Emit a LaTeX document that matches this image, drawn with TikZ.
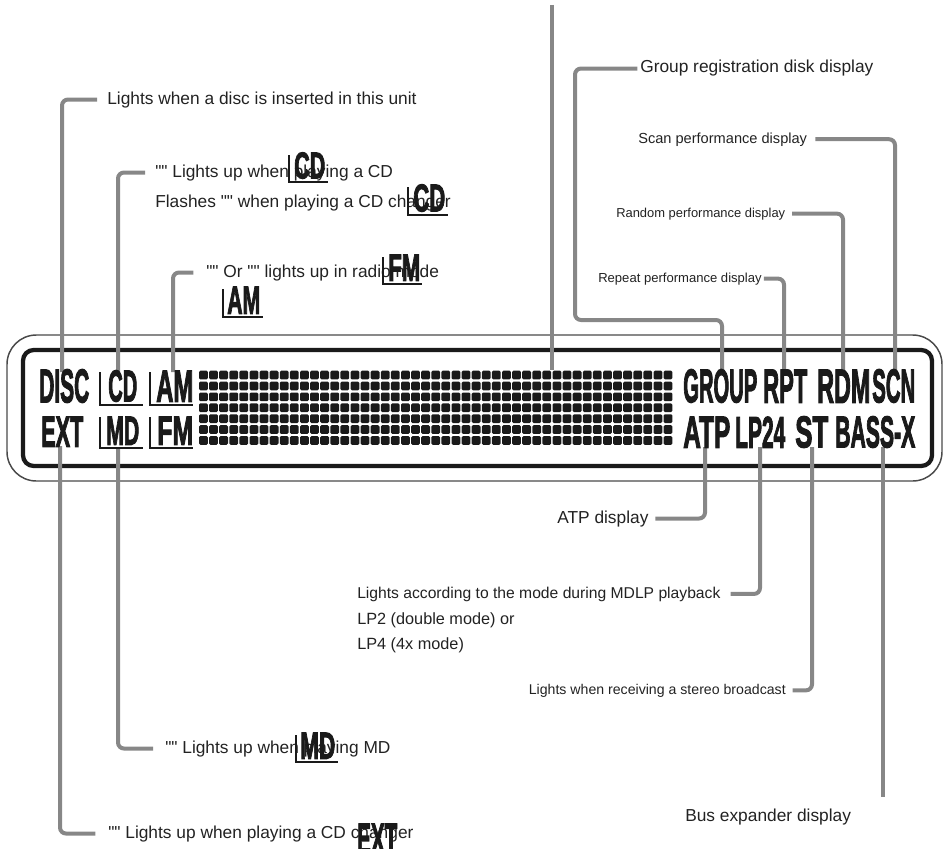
\documentclass[tikz,border=0pt]{standalone}
\usepackage{fontspec}
\usepackage{graphicx}
\setmainfont{Liberation Sans}[Ligatures=TeXOff]
\newfontfamily\lcdfont{Liberation Sans}[FakeBold=3]
\newlength\pxu
\setlength\pxu{0.75pt}
\newcommand\lcdtxt[3]{\resizebox{#1\pxu}{#2\pxu}{\lcdfont\bfseries #3}}
\definecolor{txt}{HTML}{222222}
\definecolor{leadgrey}{HTML}{878787}
\definecolor{dotc}{HTML}{1A1A1A}
\definecolor{framegrey}{HTML}{4A4A4A}
\tikzset{
  lead/.style={draw=leadgrey, line width=3pt, rounded corners=4.5pt},
  lbl/.style={inner sep=0pt, text=txt, font=\fontsize{13}{15}\selectfont},
  lcd/.style={inner sep=0pt, anchor=south west, text=dotc},
  brk/.style={draw=dotc, line width=2pt},
  sbrk/.style={draw=dotc, line width=1.7pt},
  dot/.style={fill=dotc, rounded corners=1pt},
}
\begin{document}
\begin{tikzpicture}[x=0.75pt, y=-0.75pt]
\useasboundingbox (0,0) rectangle (946,849);
\clip (0,0) rectangle (946,849);

% frames
\draw[draw=framegrey, line width=1.1pt, rounded corners=22pt] (7,335) rectangle (942,481);
\draw[draw=dotc, line width=3.2pt, rounded corners=8pt] (23,350) rectangle (932,466);

% named end points on the display
\coordinate (eDisc) at (62,372);
\coordinate (eCD) at (118,372);
\coordinate (eAM) at (173,372);
\coordinate (eMtx) at (552,370);
\coordinate (topfree) at (552,5);
\coordinate (eGroup) at (722,372);
\coordinate (eRpt) at (784,372);
\coordinate (eRdm) at (843,372);
\coordinate (eScan) at (895,372);
\coordinate (eExt) at (60,446);
\coordinate (eMD) at (118,447);
\coordinate (eATP) at (705,447);
\coordinate (eLP) at (760,447);
\coordinate (eST) at (812,447);
\coordinate (eBass) at (883,447);
\coordinate (bassfree) at (883,797);

% caption texts
\node[lbl, anchor=base west] (tDisc) at (107,104) {Lights when a disc is inserted in this unit};
\node[lbl, anchor=base west] (tCD) at (155,177) {"" Lights up when playing a CD};
\node[lbl, anchor=base west] (tCDb) at (155,207) {Flashes "" when playing a CD changer};
\node[lbl, anchor=base west] (tAM) at (206,277) {"" Or "" lights up in radio mode};
\node[lbl, anchor=base west] (tGroup) at (640,73) {Group registration disk display};
\node[lbl, anchor=base west, font=\fontsize{10.95}{13}\selectfont] (tScan) at (638,143) {Scan performance display};
\node[lbl, anchor=base west, font=\fontsize{9.7}{12}\selectfont] (tRdm) at (616,217) {Random performance display};
\node[lbl, anchor=base west, font=\fontsize{9.8}{12}\selectfont] (tRpt) at (598,282) {Repeat performance display};
\node[lbl, anchor=base west] (tATP) at (557,523) {ATP display};
\node[lbl, anchor=base west, font=\fontsize{11.75}{14}\selectfont] (tLP) at (357,598) {Lights according to the mode during MDLP playback};
\node[lbl, anchor=base west, font=\fontsize{12.2}{14}\selectfont] (tLP2) at (357,624) {LP2 (double mode) or};
\node[lbl, anchor=base west, font=\fontsize{12.2}{14}\selectfont] (tLP4) at (357,649.5) {LP4 (4x mode)};
\node[lbl, anchor=base east, font=\fontsize{10.6}{12}\selectfont] (tST) at (786,694) {Lights when receiving a stereo broadcast};
\node[lbl, anchor=base west] (tMD) at (165,753) {"" Lights up when playing MD};
\node[lbl, anchor=base west] (tExt) at (108,838) {"" Lights up when playing a CD changer};
\node[lbl, anchor=base west] (tBass) at (685,821) {Bus expander display};

% leader lines
\draw[lead] ([xshift=-7.5pt]tDisc.west) -| (eDisc);
\draw[lead] ([xshift=-7.5pt]tCD.west) -| (eCD);
\draw[lead] ([xshift=-9.5pt]tAM.west) -| (eAM);
\draw[lead] (topfree) -- (eMtx);
\draw[lead] ([xshift=-2pt]tGroup.west) -| (575,320) -| (eGroup);
\draw[lead] ([xshift=6pt]tScan.east) -| (eScan);
\draw[lead] ([xshift=5pt]tRdm.east) -| (eRdm);
\draw[lead] ([xshift=1.5pt]tRpt.east) -| (eRpt);
\draw[lead] (eExt) |- ([xshift=-9.5pt]tExt.west);
\draw[lead] (eMD) |- ([xshift=-9pt]tMD.west);
\draw[lead] (eATP) |- ([xshift=5pt]tATP.east);
\draw[lead] (eLP) |- ([xshift=7.5pt]tLP.east);
\draw[lead] (eST) |- ([xshift=5pt]tST.east);
\draw[lead] (eBass) -- (bassfree);

% dot matrix
\foreach \c in {0,...,46}{
  \foreach \r in {0,...,6}{
    \fill[dot] ({199+\c*10.1},{370.7+\r*10.9}) rectangle ++(8.8,8.7);
  }
}

% display legends
\node[lcd] (DISC) at (39,403) {\lcdtxt{50}{33}{DISC}};
\node[lcd] (EXT) at (41,447) {\lcdtxt{42}{30}{EXT}};
\draw[brk] (100,372) |- (143,405);
\node[lcd] (CD) at (108,402) {\lcdtxt{29}{31}{CD}};
\draw[brk] (150,372) |- (193,405);
\node[lcd] (AM) at (156,402) {\lcdtxt{37}{31}{AM}};
\draw[brk] (100,417) |- (143,448);
\node[lcd] (MD) at (106,445) {\lcdtxt{33}{28}{MD}};
\draw[brk] (150,417) |- (193,448);
\node[lcd] (FM) at (157,445) {\lcdtxt{36}{28}{FM}};
\node[lcd] (GROUP) at (683,403) {\lcdtxt{74}{33}{GROUP}};
\node[lcd] (RPT) at (763,403) {\lcdtxt{44}{33}{RPT}};
\node[lcd] (RDM) at (817,403) {\lcdtxt{53}{33}{RDM}};
\node[lcd] (SCN) at (872,403) {\lcdtxt{43}{33}{SCN}};
\node[lcd] (ATP) at (683,448) {\lcdtxt{47}{31}{ATP}};
\node[lcd] (LP24) at (735,448) {\lcdtxt{50}{31}{LP24}};
\node[lcd] (ST) at (795,448) {\lcdtxt{33}{31}{ST}};
\node[lcd] (BASSX) at (835,448) {\lcdtxt{80}{31}{BASS-X}};

% icons set into the captions
\draw[sbrk] (289,155) |- (328,182);
\node[lcd] (iCD1) at (294,179) {\lcdtxt{31}{26}{CD}};
\draw[sbrk] (408,187) |- (448,215);
\node[lcd] (iCD2) at (413,212) {\lcdtxt{32}{27}{CD}};
\draw[sbrk] (383,257) |- (422,284);
\node[lcd] (iFM) at (388,281) {\lcdtxt{32}{26}{FM}};
\draw[sbrk] (223,289) |- (263,317);
\node[lcd] (iAM) at (227,314) {\lcdtxt{33}{27}{AM}};
\draw[sbrk] (296,735) |- (338,762);
\node[lcd] (iMD) at (300,759) {\lcdtxt{35}{26}{MD}};
\node[lcd] (iEXT) at (357,854) {\lcdtxt{40}{30}{EXT}};
\end{tikzpicture}
\end{document}
